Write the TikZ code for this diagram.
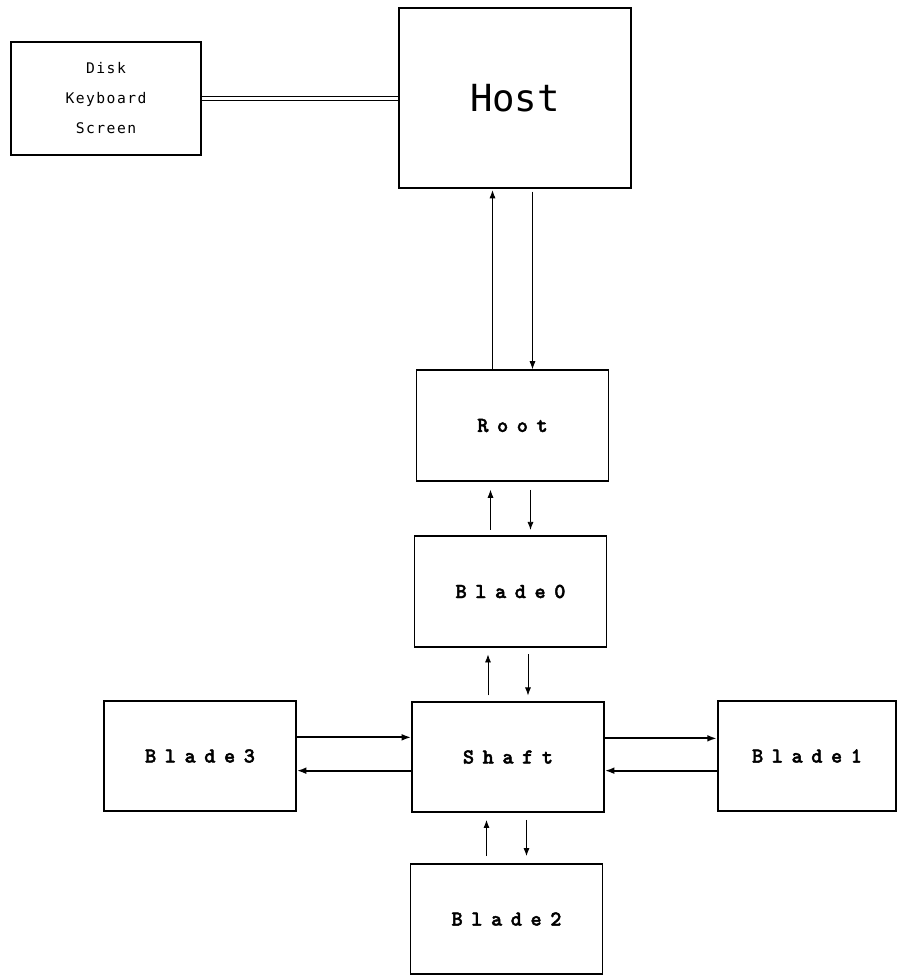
\documentclass[tikz,border=0pt]{standalone}
\usepackage{fontspec}
\usetikzlibrary{arrows.meta}
\newfontfamily\termfont[LetterSpace=10]{DejaVu Sans Mono}
\newfontfamily\hostfont{DejaVu Sans Mono}
\newfontfamily\bladefont{lmmonolt10-bold.otf}[LetterSpace=40, FakeBold=2]

\begin{document}
\begin{tikzpicture}[x=0.75pt, y=-0.75pt,
    box/.style={draw=black, line width=1.4pt, minimum width=144pt, minimum height=83pt,
      inner sep=0pt, font=\bladefont\fontsize{16}{16}\selectfont},
    vlink/.style={draw=black, line width=0.6pt, -{Latex[length=6pt, width=4.5pt]}},
    hlink/.style={draw=black, line width=1.3pt, -{Latex[length=7pt, width=5pt]}}]
  \useasboundingbox (0, 0) rectangle (898, 976);
  % host side
  \node[box, minimum width=142.5pt, minimum height=85pt, align=center,
    font=\termfont\fontsize{11}{22.5}\selectfont] (disk) at (106, 98.5) {Disk\\Keyboard\\Screen};
  \node[box, minimum width=174pt, minimum height=135pt,
    font=\hostfont\fontsize{28}{28}\selectfont] (host) at (515, 98) {Host};
  % the engine
  \node[box] (root) at (512.5, 425.5) {Root};
  \node[box] (blade0) at (510.5, 591.5) {Blade0};
  \node[box] (shaft) at (508, 757) {Shaft};
  \node[box] (blade2) at (506.5, 919) {Blade2};
  \node[box] (blade3) at (200, 756) {Blade3};
  \node[box, minimum width=134pt] (blade1) at (807, 756) {Blade1};

  \path[draw=black, double, double distance=2pt, line width=0.8pt] (disk.east) -- (disk.east -| host.west);
  % host <-> root
  \path[vlink, shorten >=1pt] ([xshift=-15pt]root.north) -- ([xshift=-15pt]root.north |- host.south);
  \path[vlink, shorten <=2pt] ([xshift=15pt]root.north |- host.south) -- ([xshift=15pt]root.north);
  % root <-> blade0
  \path[vlink, shorten <=4pt, shorten >=6pt] ([xshift=-15pt]blade0.north) -- ([xshift=-15pt]blade0.north |- root.south);
  \path[vlink, shorten <=6pt, shorten >=4pt] ([xshift=15pt]blade0.north |- root.south) -- ([xshift=15pt]blade0.north);
  % blade0 <-> shaft
  \path[vlink, shorten <=4pt, shorten >=5pt] ([xshift=-15pt]shaft.north) -- ([xshift=-15pt]shaft.north |- blade0.south);
  \path[vlink, shorten <=5pt, shorten >=4pt] ([xshift=15pt]shaft.north |- blade0.south) -- ([xshift=15pt]shaft.north);
  % shaft <-> blade2
  \path[vlink, shorten <=5pt, shorten >=5pt] ([xshift=-15pt]blade2.north) -- ([xshift=-15pt]blade2.north |- shaft.south);
  \path[vlink, shorten <=5pt, shorten >=5pt] ([xshift=15pt]blade2.north |- shaft.south) -- ([xshift=15pt]blade2.north);
  % blade3 <-> shaft
  \path[hlink] ([yshift=14pt]blade3.east) -- ([yshift=14pt]blade3.east -| shaft.west);
  \path[hlink] ([yshift=-11pt]blade3.east -| shaft.west) -- ([yshift=-11pt]blade3.east);
  % shaft <-> blade1
  \path[hlink] ([yshift=14pt]shaft.east) -- ([yshift=14pt]shaft.east -| blade1.west);
  \path[hlink] ([yshift=-11pt]blade1.west) -- ([yshift=-11pt]blade1.west -| shaft.east);
\end{tikzpicture}
\end{document}
